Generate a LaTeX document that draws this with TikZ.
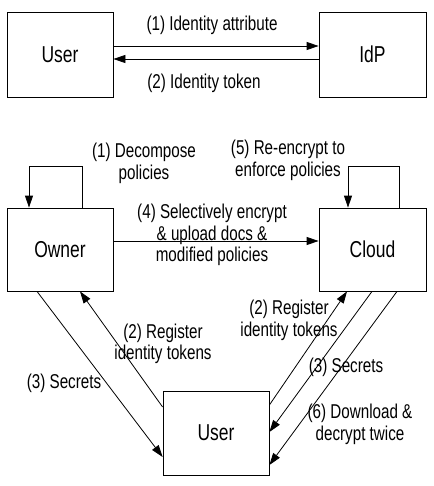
\documentclass[tikz,border=0pt]{standalone}
\usepackage{fontspec}
\setmainfont{Liberation Sans}[FakeStretch=0.76]
\usetikzlibrary{arrows.meta}
\begin{document}
\begin{tikzpicture}[x=1pt,y=-1pt,
  box/.style={draw, line width=0.8pt, minimum width=106pt, minimum height=85pt, inner sep=0pt, font=\fontsize{23}{26}\selectfont},
  lbl/.style={align=center, inner sep=0pt, font=\fontsize{20}{21.5}\selectfont},
  arr/.style={-{Triangle[length=12pt,width=8pt]}, line width=0.8pt}]
\useasboundingbox (0,0) rectangle (433,486);
\node[box] (user1) at (60,54.5) {User};
\node[box, minimum width=107pt] (idp) at (372.5,54.5) {IdP};
\node[box, minimum height=83pt] (owner) at (60,249.5) {Owner};
\node[box, minimum width=107pt, minimum height=83pt] (cloud) at (372.5,249.5) {Cloud};
\node[box, minimum height=84pt] (user2) at (216,433) {User};

\draw[arr] (user1.east |- 0,46) -- (idp.west |- 0,46);
\draw[arr] (idp.west |- 0,59) -- (user1.east |- 0,59);
\draw[arr] (owner.north -| 82,0) -- ++(0,-41) -| (owner.north -| 29,0);
\draw[arr] (cloud.north -| 399,0) -- ++(0,-41) -| (cloud.north -| 348,0);
\draw[arr] (owner.east |- 0,241) -- (cloud.west |- 0,241);
\draw[arr] (owner.south -| 37,0) -- (user2.west |- 0,457);
\draw[arr] (user2.west |- 0,407) -- (owner.south -| 80,0);
\draw[arr] (user2.east |- 0,405) -- (cloud.south -| 347,0);
\draw[arr] (cloud.south -| 372,0) -- (user2.east |- 0,432);
\draw[arr] (cloud.south -| 397,0) -- (user2.east |- 0,465);

\node[lbl] (t1) at (212,25) {(1) Identity attribute};
\node[lbl] (t2) at (204,83) {(2) Identity token};
\node[lbl] (t3) at (144,163.5) {(1) Decompose\\policies};
\node[lbl] (t4) at (288,160.5) {(5) Re-encrypt to\\enforce policies};
\node[lbl] (t5) at (212,235) {(4) Selectively encrypt\\\& upload docs \&\\modified policies};
\node[lbl] (t6) at (163,344) {(2) Register\\identity tokens};
\node[lbl] (t7) at (64,383) {(3) Secrets};
\node[lbl] (t8) at (289,320.5) {(2) Register\\identity tokens};
\node[lbl] (t9) at (346,367) {(3) Secrets};
\node[lbl] (t10) at (360,424.5) {(6) Download \&\\decrypt twice};
\end{tikzpicture}
\end{document}
